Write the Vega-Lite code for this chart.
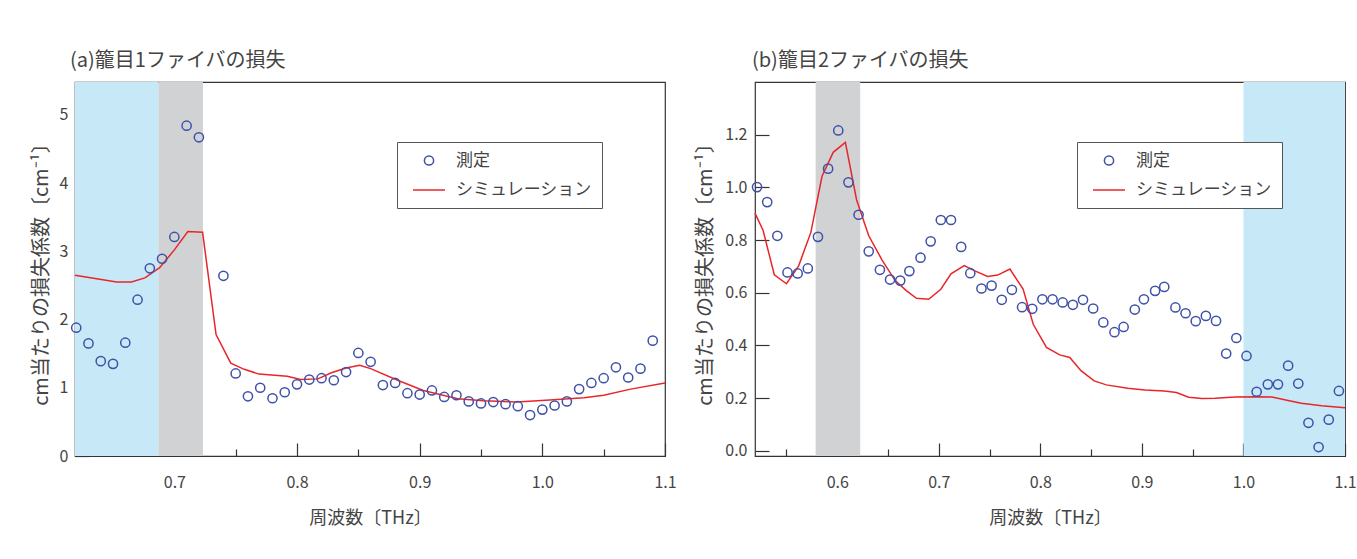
{
  "$schema": "https://vega.github.io/schema/vega-lite/v6.json",
  "background": "white",
  "padding": {"left": 30, "top": 50, "right": 5, "bottom": 5},
  "config": {
    "font": "Noto Sans CJK JP",
    "view": {"stroke": "#333333", "strokeWidth": 1.2},
    "axis": {
      "grid": false, "domain": false,
      "labelFont": "Noto Sans CJK JP", "labelFontSize": 16, "labelColor": "#444444",
      "titleFont": "Noto Sans CJK JP", "titleFontSize": 18, "titleFontWeight": "normal", "titleColor": "#444444",
      "tickColor": "#333333", "tickWidth": 1.2
    },
    "title": {"font": "Noto Sans CJK JP", "fontSize": 20, "fontWeight": "normal", "color": "#444444"},
    "legend": {
      "labelFont": "Noto Sans CJK JP", "labelFontSize": 17, "labelColor": "#444444",
      "strokeColor": "#555555", "fillColor": "white", "padding": 10,
      "symbolStrokeWidth": 1.5, "symbolOffset": 5, "labelOffset": 10, "rowPadding": 4
    }
  },
  "datasets": {
    "a_meas": [
      {"f": 0.62, "v": 1.88}, {"f": 0.63, "v": 1.65}, {"f": 0.64, "v": 1.39}, {"f": 0.65, "v": 1.35},
      {"f": 0.66, "v": 1.66}, {"f": 0.67, "v": 2.29}, {"f": 0.68, "v": 2.75}, {"f": 0.69, "v": 2.89},
      {"f": 0.70, "v": 3.21}, {"f": 0.71, "v": 4.84}, {"f": 0.72, "v": 4.67}, {"f": 0.74, "v": 2.64},
      {"f": 0.75, "v": 1.21}, {"f": 0.76, "v": 0.875}, {"f": 0.77, "v": 1.0}, {"f": 0.78, "v": 0.846},
      {"f": 0.79, "v": 0.934}, {"f": 0.80, "v": 1.05}, {"f": 0.81, "v": 1.12}, {"f": 0.82, "v": 1.14},
      {"f": 0.83, "v": 1.11}, {"f": 0.84, "v": 1.23}, {"f": 0.85, "v": 1.51}, {"f": 0.86, "v": 1.38},
      {"f": 0.87, "v": 1.04}, {"f": 0.88, "v": 1.07}, {"f": 0.89, "v": 0.92}, {"f": 0.90, "v": 0.90},
      {"f": 0.91, "v": 0.96}, {"f": 0.92, "v": 0.865}, {"f": 0.93, "v": 0.89}, {"f": 0.94, "v": 0.80},
      {"f": 0.95, "v": 0.77}, {"f": 0.96, "v": 0.79}, {"f": 0.97, "v": 0.76}, {"f": 0.98, "v": 0.73},
      {"f": 0.99, "v": 0.60}, {"f": 1.00, "v": 0.68}, {"f": 1.01, "v": 0.74}, {"f": 1.02, "v": 0.80},
      {"f": 1.03, "v": 0.98}, {"f": 1.04, "v": 1.07}, {"f": 1.05, "v": 1.14}, {"f": 1.06, "v": 1.30},
      {"f": 1.07, "v": 1.15}, {"f": 1.08, "v": 1.28}, {"f": 1.09, "v": 1.69}
    ],
    "a_sim": [
      {"f": 0.619, "v": 2.65}, {"f": 0.653, "v": 2.55}, {"f": 0.665, "v": 2.55}, {"f": 0.676, "v": 2.61},
      {"f": 0.688, "v": 2.76}, {"f": 0.700, "v": 3.02}, {"f": 0.711, "v": 3.29}, {"f": 0.723, "v": 3.28},
      {"f": 0.734, "v": 1.78}, {"f": 0.746, "v": 1.36}, {"f": 0.757, "v": 1.27}, {"f": 0.769, "v": 1.20},
      {"f": 0.792, "v": 1.17}, {"f": 0.803, "v": 1.12}, {"f": 0.817, "v": 1.13}, {"f": 0.828, "v": 1.22},
      {"f": 0.840, "v": 1.29}, {"f": 0.851, "v": 1.33}, {"f": 0.860, "v": 1.28}, {"f": 0.882, "v": 1.11},
      {"f": 0.903, "v": 0.96}, {"f": 0.931, "v": 0.84}, {"f": 0.952, "v": 0.81}, {"f": 0.979, "v": 0.79},
      {"f": 1.006, "v": 0.82}, {"f": 1.034, "v": 0.855}, {"f": 1.050, "v": 0.89}, {"f": 1.072, "v": 0.98},
      {"f": 1.100, "v": 1.07}
    ],
    "b_meas": [
      {"f": 0.521, "v": 1.001}, {"f": 0.531, "v": 0.944}, {"f": 0.541, "v": 0.816}, {"f": 0.551, "v": 0.677},
      {"f": 0.561, "v": 0.673}, {"f": 0.571, "v": 0.692}, {"f": 0.581, "v": 0.812}, {"f": 0.591, "v": 1.071},
      {"f": 0.601, "v": 1.216}, {"f": 0.611, "v": 1.019}, {"f": 0.621, "v": 0.896}, {"f": 0.631, "v": 0.757},
      {"f": 0.642, "v": 0.687}, {"f": 0.652, "v": 0.650}, {"f": 0.662, "v": 0.646}, {"f": 0.671, "v": 0.682},
      {"f": 0.682, "v": 0.733}, {"f": 0.692, "v": 0.795}, {"f": 0.702, "v": 0.876}, {"f": 0.712, "v": 0.876},
      {"f": 0.722, "v": 0.774}, {"f": 0.731, "v": 0.674}, {"f": 0.742, "v": 0.616}, {"f": 0.752, "v": 0.627},
      {"f": 0.762, "v": 0.573}, {"f": 0.772, "v": 0.611}, {"f": 0.782, "v": 0.545}, {"f": 0.792, "v": 0.539},
      {"f": 0.802, "v": 0.575}, {"f": 0.812, "v": 0.575}, {"f": 0.822, "v": 0.563}, {"f": 0.832, "v": 0.554},
      {"f": 0.842, "v": 0.573}, {"f": 0.852, "v": 0.540}, {"f": 0.862, "v": 0.487}, {"f": 0.873, "v": 0.450},
      {"f": 0.882, "v": 0.470}, {"f": 0.893, "v": 0.536}, {"f": 0.902, "v": 0.575}, {"f": 0.913, "v": 0.607},
      {"f": 0.922, "v": 0.622}, {"f": 0.933, "v": 0.544}, {"f": 0.943, "v": 0.522}, {"f": 0.953, "v": 0.492},
      {"f": 0.963, "v": 0.512}, {"f": 0.973, "v": 0.493}, {"f": 0.983, "v": 0.369}, {"f": 0.993, "v": 0.428},
      {"f": 1.003, "v": 0.360}, {"f": 1.013, "v": 0.224}, {"f": 1.024, "v": 0.252}, {"f": 1.034, "v": 0.252},
      {"f": 1.044, "v": 0.323}, {"f": 1.054, "v": 0.255}, {"f": 1.064, "v": 0.106}, {"f": 1.074, "v": 0.014},
      {"f": 1.084, "v": 0.118}, {"f": 1.094, "v": 0.227}
    ],
    "b_sim": [
      {"f": 0.519, "v": 0.902}, {"f": 0.527, "v": 0.836}, {"f": 0.538, "v": 0.668}, {"f": 0.550, "v": 0.634},
      {"f": 0.562, "v": 0.702}, {"f": 0.574, "v": 0.829}, {"f": 0.585, "v": 1.042}, {"f": 0.596, "v": 1.133},
      {"f": 0.608, "v": 1.171}, {"f": 0.619, "v": 0.953}, {"f": 0.631, "v": 0.816}, {"f": 0.644, "v": 0.725},
      {"f": 0.657, "v": 0.646}, {"f": 0.668, "v": 0.608}, {"f": 0.678, "v": 0.579}, {"f": 0.690, "v": 0.575},
      {"f": 0.702, "v": 0.613}, {"f": 0.712, "v": 0.672}, {"f": 0.725, "v": 0.703}, {"f": 0.735, "v": 0.684},
      {"f": 0.748, "v": 0.662}, {"f": 0.758, "v": 0.667}, {"f": 0.770, "v": 0.690}, {"f": 0.783, "v": 0.614},
      {"f": 0.793, "v": 0.480}, {"f": 0.806, "v": 0.392}, {"f": 0.819, "v": 0.364}, {"f": 0.829, "v": 0.354},
      {"f": 0.840, "v": 0.304}, {"f": 0.853, "v": 0.265}, {"f": 0.865, "v": 0.250}, {"f": 0.886, "v": 0.237},
      {"f": 0.903, "v": 0.231}, {"f": 0.922, "v": 0.227}, {"f": 0.934, "v": 0.221}, {"f": 0.946, "v": 0.203},
      {"f": 0.959, "v": 0.198}, {"f": 0.972, "v": 0.199}, {"f": 0.992, "v": 0.204}, {"f": 1.011, "v": 0.205},
      {"f": 1.028, "v": 0.204}, {"f": 1.044, "v": 0.191}, {"f": 1.057, "v": 0.180}, {"f": 1.077, "v": 0.171},
      {"f": 1.100, "v": 0.163}
    ]
  },
  "spacing": 90,
  "bounds": "flush",
  "resolve": {
    "scale": {"color": "independent", "shape": "independent", "size": "independent"},
    "legend": {"color": "independent", "shape": "independent", "size": "independent"}
  },
  "hconcat": [
    {
      "width": 590, "height": 374,
      "title": {"text": "(a)籠目1ファイバの損失", "anchor": "start", "frame": "group", "dx": -5, "offset": 11},
      "layer": [
        {
          "data": {"values": [{"start": 0.619, "end": 0.687}]},
          "mark": {"type": "rect", "color": "#c6e8f7"},
          "encoding": {
            "x": {"field": "start", "type": "quantitative", "title": "周波数〔THz〕",
              "scale": {"domain": [0.619, 1.1], "nice": false, "zero": false},
              "axis": {
                "values": [0.65, 0.7, 0.75, 0.8, 0.85, 0.9, 0.95, 1.0, 1.05, 1.1],
                "labelExpr": "abs(datum.value*10 - round(datum.value*10)) < 0.01 ? format(datum.value, '.1f') : ''",
                "tickSize": {"condition": {"test": "abs(datum.value*10 - round(datum.value*10)) < 0.01", "value": -13}, "value": -7},
                "labelPadding": 31, "labelFlush": false, "titlePadding": 19
              }},
            "x2": {"field": "end"}
          }
        },
        {
          "data": {"values": [{"start": 0.687, "end": 0.7233}]},
          "mark": {"type": "rect", "color": "#d1d2d4"},
          "encoding": {
            "x": {"field": "start", "type": "quantitative", "title": "周波数〔THz〕", "scale": {"domain": [0.619, 1.1], "nice": false, "zero": false}},
            "x2": {"field": "end"}
          }
        },
        {
          "data": {"name": "a_sim"},
          "transform": [{"calculate": "'シミュレーション'", "as": "series"}],
          "mark": {"type": "line", "strokeWidth": 1.5},
          "encoding": {
            "x": {"field": "f", "type": "quantitative", "title": "周波数〔THz〕", "scale": {"domain": [0.619, 1.1], "nice": false, "zero": false}},
            "y": {"field": "v", "type": "quantitative", "title": "cm当たりの損失係数〔cm⁻¹〕", "scale": {"domain": [0, 5.48], "nice": false}},
            "color": {"field": "series", "type": "nominal", "scale": {"domain": ["測定", "シミュレーション"], "range": ["#3f51a8", "#e8262a"]}}
          }
        },
        {
          "data": {"name": "a_meas"},
          "transform": [{"calculate": "'測定'", "as": "series"}],
          "mark": {"type": "point", "filled": false, "strokeWidth": 1.5, "opacity": 1},
          "encoding": {
            "x": {"field": "f", "type": "quantitative", "title": "周波数〔THz〕", "scale": {"domain": [0.619, 1.1], "nice": false, "zero": false}},
            "y": {"field": "v", "type": "quantitative", "title": "cm当たりの損失係数〔cm⁻¹〕",
              "scale": {"domain": [0, 5.48], "nice": false},
              "axis": {"values": [0, 1, 2, 3, 4, 5], "format": "d", "tickSize": -14, "labelPadding": 21,
                "titleFontSize": 20,
                "titleX": -34, "titleY": 187, "titleAngle": -90, "titleBaseline": "middle", "titleAlign": "center"}},
            "color": {"field": "series", "type": "nominal",
              "scale": {"domain": ["測定", "シミュレーション"], "range": ["#3f51a8", "#e8262a"]},
              "legend": {"orient": "none", "legendX": 322, "legendY": 60, "title": null}},
            "shape": {"field": "series", "type": "nominal",
              "scale": {"domain": ["測定", "シミュレーション"], "range": ["circle", "stroke"]},
              "legend": {"orient": "none", "legendX": 322, "legendY": 60, "title": null}},
            "size": {"field": "series", "type": "nominal",
              "scale": {"domain": ["測定", "シミュレーション"], "range": [85, 1024]},
              "legend": {"orient": "none", "legendX": 322, "legendY": 60, "title": null}}
          }
        }
      ]
    },
    {
      "width": 590, "height": 374,
      "title": {"text": "(b)籠目2ファイバの損失", "anchor": "start", "frame": "group", "dx": -3, "offset": 11},
      "layer": [
        {
          "data": {"values": [{"start": 0.5787, "end": 0.6226}]},
          "mark": {"type": "rect", "color": "#d1d2d4"},
          "encoding": {
            "x": {"field": "start", "type": "quantitative", "title": "周波数〔THz〕",
              "scale": {"domain": [0.519, 1.1], "nice": false, "zero": false},
              "axis": {
                "values": [0.55, 0.6, 0.65, 0.7, 0.75, 0.8, 0.85, 0.9, 0.95, 1.0, 1.05, 1.1],
                "labelExpr": "abs(datum.value*10 - round(datum.value*10)) < 0.01 ? format(datum.value, '.1f') : ''",
                "tickSize": {"condition": {"test": "abs(datum.value*10 - round(datum.value*10)) < 0.01", "value": -13}, "value": -7},
                "labelPadding": 31, "labelFlush": false, "titlePadding": 19
              }},
            "x2": {"field": "end"}
          }
        },
        {
          "data": {"values": [{"start": 1.0, "end": 1.1}]},
          "mark": {"type": "rect", "color": "#c6e8f7"},
          "encoding": {
            "x": {"field": "start", "type": "quantitative", "title": "周波数〔THz〕", "scale": {"domain": [0.519, 1.1], "nice": false, "zero": false}},
            "x2": {"field": "end"}
          }
        },
        {
          "data": {"name": "b_sim"},
          "transform": [{"calculate": "'シミュレーション'", "as": "series"}],
          "mark": {"type": "line", "strokeWidth": 1.5},
          "encoding": {
            "x": {"field": "f", "type": "quantitative", "title": "周波数〔THz〕", "scale": {"domain": [0.519, 1.1], "nice": false, "zero": false}},
            "y": {"field": "v", "type": "quantitative", "title": "cm当たりの損失係数〔cm⁻¹〕", "scale": {"domain": [-0.02, 1.4], "nice": false, "zero": false}},
            "color": {"field": "series", "type": "nominal", "scale": {"domain": ["測定", "シミュレーション"], "range": ["#3f51a8", "#e8262a"]}}
          }
        },
        {
          "data": {"name": "b_meas"},
          "transform": [{"calculate": "'測定'", "as": "series"}],
          "mark": {"type": "point", "filled": false, "strokeWidth": 1.5, "opacity": 1},
          "encoding": {
            "x": {"field": "f", "type": "quantitative", "title": "周波数〔THz〕", "scale": {"domain": [0.519, 1.1], "nice": false, "zero": false}},
            "y": {"field": "v", "type": "quantitative", "title": "cm当たりの損失係数〔cm⁻¹〕",
              "scale": {"domain": [-0.02, 1.4], "nice": false, "zero": false},
              "axis": {"values": [0, 0.1, 0.2, 0.3, 0.4, 0.5, 0.6, 0.7, 0.8, 0.9, 1.0, 1.1, 1.2, 1.3],
                "labelExpr": "abs(datum.value*5 - round(datum.value*5)) < 0.01 ? format(datum.value, '.1f') : ''",
                "tickSize": {"condition": {"test": "abs(datum.value*5 - round(datum.value*5)) < 0.01", "value": -14}, "value": -8},
                "labelPadding": 22, "titleFontSize": 20,
                "titleX": -50, "titleY": 187, "titleAngle": -90, "titleBaseline": "middle", "titleAlign": "center"}},
            "color": {"field": "series", "type": "nominal",
              "scale": {"domain": ["測定", "シミュレーション"], "range": ["#3f51a8", "#e8262a"]},
              "legend": {"orient": "none", "legendX": 322, "legendY": 60, "title": null}},
            "shape": {"field": "series", "type": "nominal",
              "scale": {"domain": ["測定", "シミュレーション"], "range": ["circle", "stroke"]},
              "legend": {"orient": "none", "legendX": 322, "legendY": 60, "title": null}},
            "size": {"field": "series", "type": "nominal",
              "scale": {"domain": ["測定", "シミュレーション"], "range": [85, 1024]},
              "legend": {"orient": "none", "legendX": 322, "legendY": 60, "title": null}}
          }
        }
      ]
    }
  ]
}
